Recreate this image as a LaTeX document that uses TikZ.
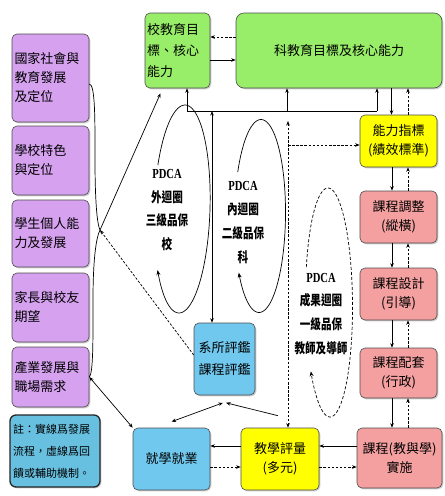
\documentclass[tikz,border=0pt]{standalone}
\usepackage{fontspec}
\setmainfont{Noto Sans CJK TC}
\newfontfamily\pdcafont{Liberation Serif}
\usetikzlibrary{arrows.meta,shadows}
\definecolor{purpbox}{RGB}{214,162,240}
\definecolor{greenbox}{RGB}{152,238,104}
\definecolor{yelbox}{RGB}{255,255,0}
\definecolor{pinkbox}{RGB}{244,160,160}
\definecolor{cyanbox}{RGB}{112,200,238}
\definecolor{notebox}{RGB}{104,192,224}
\tikzset{
  box/.style={draw=black!70, line width=0.6pt, rounded corners=5pt, inner sep=2pt,
    font=\fontsize{13}{19}\selectfont,
    drop shadow={shadow xshift=1.3pt, shadow yshift=-1.3pt, fill=black!40}},
  purp/.style={box, fill=purpbox, align=left, minimum width=77pt, text width=72pt},
  grn/.style={box, fill=greenbox},
  ylw/.style={box, fill=yelbox, align=center},
  pnk/.style={box, fill=pinkbox, align=center},
  cyn/.style={box, fill=cyanbox, align=center},
  etext/.style={align=center, font=\fontsize{11.5}{19.8}\selectfont\bfseries, xscale=0.92, yscale=1.2},
  sarr/.style={-{Stealth[length=4.5pt,width=3.5pt]}, line width=0.7pt},
  darr/.style={sarr, dash pattern=on 2.5pt off 1.6pt},
  ddarr/.style={{Stealth[length=4.5pt,width=3.5pt]}-{Stealth[length=4.5pt,width=3.5pt]}, line width=0.7pt, dash pattern=on 2.5pt off 1.6pt},
  bdarr/.style={{Stealth[length=4.5pt,width=3.5pt]}-{Stealth[length=4.5pt,width=3.5pt]}, line width=0.7pt},
  loop/.style={line width=0.7pt, -{Stealth[length=5pt,width=4pt]}},
}
\begin{document}
\begin{tikzpicture}[x=1pt,y=-1pt]
\useasboundingbox (0,0) rectangle (445,496);

% left column
\node[purp, minimum height=88pt] (p1) at (50.5,78) {國家社會與\\教育發展\\及定位};
\node[purp, minimum height=69pt] (p2) at (50.5,160.5) {學校特色\\與定位};
\node[purp, minimum height=67pt] (p3) at (50.5,233.5) {學生個人能\\力及發展};
\node[purp, minimum height=69pt] (p4) at (50.5,307.5) {家長與校友\\期望};
\node[purp, minimum height=60pt] (p5) at (50.5,377) {產業發展與\\職場需求};
\node[box, fill=notebox, draw=black!85, line width=1.3pt, rounded corners=6pt,
  minimum width=90pt, text width=84pt, minimum height=72pt, align=left,
  font=\fontsize{11}{22}\selectfont] (note) at (55,451) {註：實線爲發展\\流程，虛線爲回\\饋或輔助機制。};

% top
\node[grn, minimum width=65pt, text width=61pt, minimum height=75pt, align=left, font=\fontsize{13}{21}\selectfont] (g1) at (177.5,50.5) {校教育目\\標、核心\\能力};
\node[grn, minimum width=206pt, minimum height=75pt, rounded corners=8pt] (g2) at (339,50.5) {科教育目標及核心能力};

% right column
\node[ylw, minimum width=77pt, minimum height=52pt] (y1) at (398.5,141) {能力指標\\(績效標準)};
\node[pnk, minimum width=77pt, minimum height=52pt] (r1) at (398.5,217) {課程調整\\(縱橫)};
\node[pnk, minimum width=77pt, minimum height=52pt] (r2) at (398.5,294) {課程設計\\(引導)};
\node[pnk, minimum width=77pt, minimum height=50pt] (r3) at (398.5,373) {課程配套\\(行政)};
\node[pnk, minimum width=85pt, minimum height=60pt] (r4) at (399.5,458) {課程(教與學)\\實施};

% bottom
\node[ylw, minimum width=78pt, minimum height=62pt] (ev) at (280,459) {教學評量\\(多元)};
\node[cyn, minimum width=77pt, minimum height=62pt] (job) at (171.5,459) {就學就業};
\node[cyn, minimum width=61pt, minimum height=72pt, font=\fontsize{13}{22}\selectfont] (sys) at (224.5,359) {系所評鑑\\課程評鑑};

% PDCA loops
\draw[loop] plot[domain=205:504, samples=90, smooth, variable=\t] ({182+28*cos(\t)-3*sin(\t)},{209+104*sin(\t)});
\draw[loop] plot[domain=207:504, samples=90, smooth, variable=\t] ({260+25.5*cos(\t)-1*sin(\t)},{216+96.5*sin(\t)});
\draw[loop, dash pattern=on 3pt off 2pt] plot[domain=198:503, samples=90, smooth, variable=\t] ({329+23.5*cos(\t)+1*sin(\t)},{302.5+114.5*sin(\t)});
\node[etext] (t1) at (167,210) {{\pdcafont\bfseries PDCA}\\外迴圈\\三級品保\\校};
\node[etext] (t2) at (243,222.5) {{\pdcafont\bfseries PDCA}\\內迴圈\\二級品保\\科};
\node[etext] (t3) at (321,314) {{\pdcafont\bfseries PDCA}\\成果迴圈\\一級品保\\教師及導師};

% top connectors
\draw[sarr] ([yshift=-9.5pt]g1.east) -- ([yshift=-9.5pt]g1.east -| g2.west);
\draw[darr] ([yshift=13.5pt]g2.west) -- ([yshift=13.5pt]g2.west -| g1.east);

\coordinate (h1) at (187,111);
\coordinate (h0) at (212,111);
\coordinate (h2) at (287,111);
\coordinate (h3) at (377,111);
\draw[line width=0.9pt] (h1) -- (h3);
\draw[sarr] (h1) -- (h1 |- g1.south);
\draw[sarr] (h2) -- (h2 |- g2.south);
\draw[sarr] (h3) -- (h3 |- g2.south);
\draw[bdarr] (h0) -- (h0 |- sys.north);

% right column connectors
\draw[sarr] ([xshift=-7pt]y1.north |- g2.south) -- ([xshift=-7pt]y1.north);
\draw[darr] ([xshift=9.5pt]y1.north) -- ([xshift=9.5pt]y1.north |- g2.south);
\foreach \a/\b in {y1/r1, r1/r2, r2/r3, r3/r4}{
  \draw[sarr] ([xshift=-6.5pt]\a.south) -- ([xshift=-6.5pt]\a.south |- \b.north);
  \draw[darr] ([xshift=9.5pt]\a.south |- \b.north) -- ([xshift=9.5pt]\a.south);
}

% bottom connectors
\draw[sarr] ([yshift=12pt]r4.west) -- ([yshift=12pt]r4.west -| ev.east);
\draw[darr] ([yshift=-9pt]r4.west -| ev.east) -- ([yshift=-9pt]r4.west);
\draw[sarr] ([yshift=13pt]ev.west) -- ([yshift=13pt]ev.west -| job.east);
\draw[darr] ([yshift=-8pt]ev.west -| job.east) -- ([yshift=-8pt]ev.west);

\coordinate (sb) at ([yshift=-7.5pt]sys.south);
\draw[bdarr] ([yshift=6pt]job.north) -- ([xshift=-1.5pt]sb);
\draw[sarr] ([xshift=-2pt,yshift=12pt]ev.north) -- ([xshift=1.5pt]sb);

\coordinate (dv) at (288,121);
\coordinate (dh) at (288,145);
\draw[ddarr] (dv) -- (dv |- ev.north);
\draw[darr] (dh) -- (dh -| y1.west);

% left brace and links
\coordinate (jn) at (100,230);
\draw[line width=0.7pt] ([yshift=-6pt]p1.east) .. controls +(6,0) and +(0,-40) .. (95,160)
  .. controls +(0,40) and +(-3,-6) .. (jn)
  .. controls +(-4,8) and +(0,-40) .. (93,300)
  .. controls +(0,40) and +(4,-4) .. (p5.east);
\draw[sarr] (jn) -- ([xshift=-17pt,yshift=-5pt]g1.south);
\draw[darr] ([yshift=4pt]sys.west) -- (jn);
\draw[bdarr] (p5.east) -- (job.north west);
\end{tikzpicture}
\end{document}
